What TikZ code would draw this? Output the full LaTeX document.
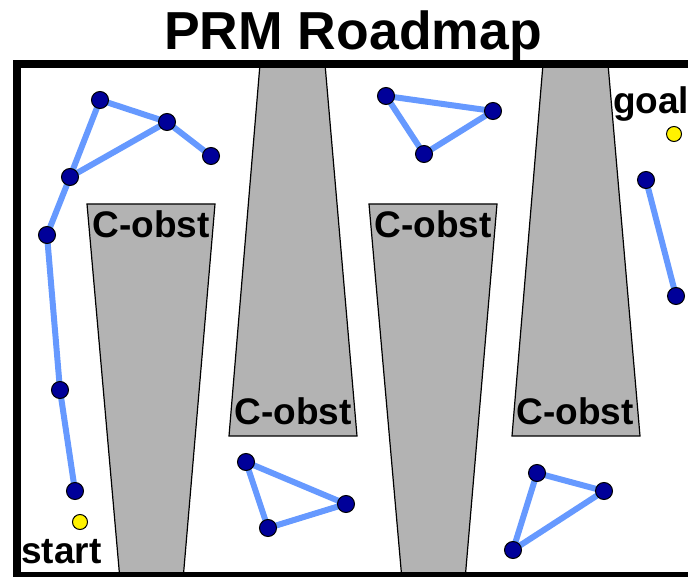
\documentclass[tikz,border=0pt]{standalone}
\usepackage{fontspec}
\setmainfont{Liberation Sans}
\begin{document}
\begin{tikzpicture}[x=1pt,y=-1pt]
\definecolor{edgeblue}{HTML}{6699FF}
\definecolor{nodeblue}{HTML}{000099}
\definecolor{obgray}{HTML}{B3B3B3}
\tikzset{edge/.style={draw=edgeblue,line width=6pt},
  rnode/.style={circle,fill=nodeblue,draw=black,line width=1pt,minimum size=17pt,inner sep=0pt},
  qnode/.style={circle,fill=yellow,draw=black,line width=1pt,minimum size=15pt,inner sep=0pt},
  obst/.style={fill=obgray,draw=black,line width=1.2pt},
  lbl/.style={font=\fontsize{37}{42}\selectfont\bfseries,inner sep=0pt,anchor=base}}
\useasboundingbox (0,0) rectangle (688,577);
\begin{scope}
\clip (0,0) rectangle (688,577);
% title
\node[font=\fontsize{53.5}{60}\selectfont\bfseries,inner sep=0pt,anchor=base] (title) at (353,50) {PRM Roadmap};
% obstacles
\draw[obst] (87,204) -- (215,204) -- (183,580) -- (120,580) -- cycle;
\draw[obst] (260,64) -- (325,64) -- (357,436) -- (229,436) -- cycle;
\draw[obst] (369,204) -- (497,204) -- (465,580) -- (402,580) -- cycle;
\draw[obst] (543,64) -- (608,64) -- (640,436) -- (512,436) -- cycle;
% frame
\draw[line width=8pt] (17,64) rectangle (692,576);
% labels
\node[lbl] (o1) at (151,238) {C-obst};
\node[lbl] (o2) at (293,424) {C-obst};
\node[lbl] (o3) at (433,238) {C-obst};
\node[lbl] (o4) at (575,424) {C-obst};
\node[lbl,anchor=base west] (startlbl) at (21,563) {start};
\node[lbl,anchor=base west] (goallbl) at (613,114) {goal};
% node coordinates
\coordinate (a1) at (100,100);
\coordinate (a2) at (167,122);
\coordinate (a3) at (211,156);
\coordinate (a4) at (70,177);
\coordinate (a5) at (47,235);
\coordinate (a6) at (60,390);
\coordinate (a7) at (75,491);
\coordinate (b1) at (386,96);
\coordinate (b2) at (493,111);
\coordinate (b3) at (424,154);
\coordinate (c1) at (646,180);
\coordinate (c2) at (676,296);
\coordinate (d1) at (246,462);
\coordinate (d2) at (346,504);
\coordinate (d3) at (268,528);
\coordinate (e1) at (537,473);
\coordinate (e2) at (604,491);
\coordinate (e3) at (513,550);
% edges
\draw[edge] (a1) -- (a2) -- (a3);
\draw[edge] (a1) -- (a4) -- (a2);
\draw[edge] (a4) -- (a5) -- (a6) -- (a7);
\draw[edge] (b1) -- (b2) -- (b3) -- cycle;
\draw[edge] (c1) -- (c2);
\draw[edge] (d1) -- (d2) -- (d3) -- cycle;
\draw[edge] (e1) -- (e2) -- (e3) -- cycle;
% nodes
\foreach \n in {a1,a2,a3,a4,a5,a6,a7,b1,b2,b3,c1,c2,d1,d2,d3,e1,e2,e3}
  \node[rnode] (n\n) at (\n) {};
\node[qnode] (start) at (80,522) {};
\node[qnode] (goal) at (674,134) {};
\end{scope}
\end{tikzpicture}
\end{document}
